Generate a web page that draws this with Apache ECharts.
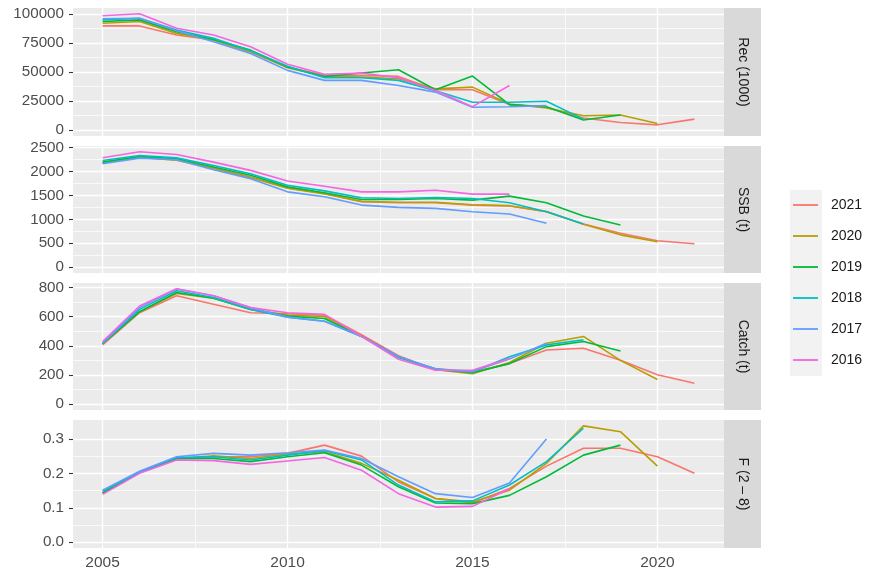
<!DOCTYPE html>
<html><head><meta charset="utf-8">
<script src="https://cdn.jsdelivr.net/npm/echarts@6/dist/echarts.min.js"></script>
<style>html,body{margin:0;padding:0;background:#fff}#c{width:869px;height:575px}</style>
</head><body><div id="c"></div>
<script>
// ---------- data ----------
const years = [2005,2006,2007,2008,2009,2010,2011,2012,2013,2014,2015,2016,2017,2018,2019,2020,2021];
const assessments = ['2021','2020','2019','2018','2017','2016'];
const panelNames = ['Rec (1000)','SSB (t)','Catch (t)','F (2 \u2013 8)'];
const xTicks = [2005,2010,2015,2020];

const rec2021 = [89600,89600,81800,77500,67300,54300,47100,47100,46200,34700,34700,22000,19700,10400,6600,4600,9500];
const rec2020 = [91900,93400,83200,77500,67300,53700,46200,45700,44200,35500,37000,22500,19100,12400,13000,5800];
const rec2019 = [93400,94800,84700,78000,68800,54300,46200,49100,52000,34700,46500,22000,20200,8700,13000];
const rec2018 = [94800,96200,86100,78900,68200,54900,45100,45100,42800,33800,24000,24000,24900,9500];
const rec2017 = [95700,96200,85500,76000,65900,51400,42800,42800,38400,32700,19700,20200,21100];
const rec2016 = [98300,100000,87600,81800,71700,56600,48000,49100,45100,34100,20200,38400];

const ssb2021 = [2174,2298,2243,2070,1884,1656,1539,1366,1346,1346,1297,1277,1159,904,711,552,490];
const ssb2020 = [2180,2290,2235,2060,1875,1650,1530,1375,1355,1355,1305,1285,1165,895,676,530];
const ssb2019 = [2194,2311,2263,2091,1918,1677,1553,1415,1415,1435,1401,1484,1346,1070,883];
const ssb2018 = [2229,2332,2284,2125,1953,1711,1594,1449,1435,1456,1435,1346,1159,904];
const ssb2017 = [2160,2277,2243,2036,1849,1573,1470,1297,1250,1228,1159,1111,918];
const ssb2016 = [2284,2410,2353,2194,2022,1801,1691,1573,1573,1608,1525,1525];

const catch2021 = [406,626,742,684,626,619,610,475,332,236,220,278,371,383,301,202,144];
const catch2020 = [415,633,758,726,650,610,600,464,325,236,209,285,417,464,300,169];
const catch2019 = [415,633,765,726,649,603,587,464,320,243,216,278,394,429,364];
const catch2018 = [418,649,777,730,649,596,568,464,325,236,220,325,406,441];
const catch2017 = [420,661,788,742,661,596,568,464,325,243,225,310,417];
const catch2016 = [429,672,790,742,661,626,615,464,308,232,232,313];

const f2021 = [0.143,0.204,0.243,0.248,0.248,0.258,0.282,0.250,0.175,0.127,0.114,0.156,0.221,0.273,0.273,0.248,0.200];
const f2020 = [0.143,0.204,0.243,0.251,0.243,0.256,0.263,0.229,0.180,0.127,0.117,0.151,0.229,0.338,0.321,0.221];
const f2019 = [0.143,0.204,0.243,0.243,0.234,0.248,0.260,0.224,0.161,0.114,0.112,0.136,0.190,0.253,0.282];
const f2018 = [0.148,0.204,0.246,0.248,0.239,0.253,0.266,0.239,0.166,0.117,0.120,0.166,0.234,0.331];
const f2017 = [0.151,0.206,0.248,0.258,0.253,0.260,0.268,0.243,0.190,0.141,0.130,0.172,0.300];
const f2016 = [0.139,0.200,0.239,0.237,0.226,0.236,0.246,0.209,0.141,0.102,0.104,0.155];

const recTicks = [0,25000,50000,75000,100000];
const ssbTicks = [0,500,1000,1500,2000,2500];
const catchTicks = [0,200,400,600,800];
const fTicks = [0.0,0.1,0.2,0.3];

// ---------- layout / style ----------
const colors = ['#F8766D','#B79F00','#00BA38','#00BFC4','#619CFF','#F564E3'];
const FONT = '"Liberation Sans", Arial, sans-serif';
const panelData = [
  [rec2021,rec2020,rec2019,rec2018,rec2017,rec2016],
  [ssb2021,ssb2020,ssb2019,ssb2018,ssb2017,ssb2016],
  [catch2021,catch2020,catch2019,catch2018,catch2017,catch2016],
  [f2021,f2020,f2019,f2018,f2017,f2016]
];
const panelTicks = [recTicks, ssbTicks, catchTicks, fTicks];
const panelRange = [[-5000,105000],[-120.5,2530.5],[-39.5,829.5],[-0.0169,0.355]];
const gridBoxes = [{top:8,height:128},{top:146,height:127},{top:283,height:127},{top:420,height:128}];
const GL = 73, GW = 651;
const xMin = 2004.2, xMax = 2021.8;

function mids(t){ const m=[]; for(let i=0;i<t.length-1;i++) m.push((t[i]+t[i+1])/2); return m; }
function fmt(v,i){ return i===3 ? v.toFixed(1) : String(v); }

const grid = gridBoxes.map(g => ({left:GL, width:GW, top:g.top, height:g.height, show:true, backgroundColor:'#EBEBEB', borderWidth:0}));
const xAxis = gridBoxes.map((g,i) => ({
  type:'value', gridIndex:i, min:xMin, max:xMax,
  splitLine:{show:false}, axisLine:{show:false},
  axisTick:{show:i===3, length:4, lineStyle:{color:'#333333',width:1.1}, customValues:xTicks},
  axisLabel:{show:i===3, customValues:xTicks, fontSize:15.5, color:'#4D4D4D', fontFamily:FONT, margin:7, formatter:v=>String(v)}
}));
const yAxis = gridBoxes.map((g,i) => ({
  type:'value', gridIndex:i, min:panelRange[i][0], max:panelRange[i][1],
  splitLine:{show:false}, axisLine:{show:false},
  axisTick:{show:true, length:4, lineStyle:{color:'#333333',width:1.1}, customValues:panelTicks[i]},
  axisLabel:{customValues:panelTicks[i], fontSize:15.2, color:'#4D4D4D', fontFamily:FONT, margin:9, formatter:v=>fmt(v,i)}
}));

const series = [];
gridBoxes.forEach((g,i) => {
  const yMajor = panelTicks[i], yMinor = mids(panelTicks[i]);
  const xMinor = mids(xTicks);
  const major = {color:'#FFFFFF', width:1.4, type:'solid'};
  const minor = {color:'#FFFFFF', width:0.7, type:'solid'};
  series.push({
    type:'line', xAxisIndex:i, yAxisIndex:i, data:[], z:1, silent:true,
    markLine:{silent:true, symbol:['none','none'], label:{show:false}, animation:false,
      data:[].concat(
        yMinor.map(v=>({yAxis:v, lineStyle:minor})),
        xMinor.map(v=>({xAxis:v, lineStyle:minor})),
        yMajor.map(v=>({yAxis:v, lineStyle:major})),
        xTicks.map(v=>({xAxis:v, lineStyle:major}))
      )}
  });
  panelData[i].forEach((arr,k) => {
    series.push({
      name:assessments[k], type:'line', xAxisIndex:i, yAxisIndex:i, z:10,
      symbol:'none', showSymbol:false, smooth:false,
      lineStyle:{color:colors[k], width:1.6}, itemStyle:{color:colors[k]},
      data: arr.map((v,j)=>[years[j], v])
    });
  });
});

const graphic = [];
gridBoxes.forEach((g,i) => {
  graphic.push({type:'rect', left:724, top:g.top, shape:{width:37, height:g.height}, style:{fill:'#D9D9D9'}, z:0});
  graphic.push({type:'text', x:743, y:g.top+g.height/2, rotation:-Math.PI/2, z:1,
    style:{text:panelNames[i], fill:'#1A1A1A', font:'14px ' + FONT, align:'center', verticalAlign:'middle', textAlign:'center', textVerticalAlign:'middle'}});
});
graphic.push({type:'rect', left:790, top:190, shape:{width:32, height:186}, style:{fill:'#F2F2F2'}, z:-10});

const chart = echarts.init(document.getElementById('c'), null, {renderer:'canvas'});
chart.setOption({
  animation:false,
  backgroundColor:'#FFFFFF',
  grid, xAxis, yAxis, series, graphic,
  legend:{orient:'vertical', left:793, top:198, padding:0, icon:'rect', itemWidth:25, itemHeight:1.8, itemGap:17,
    data:assessments, selectedMode:false,
    textStyle:{fontSize:14, color:'#1A1A1A', fontFamily:FONT, padding:[0,0,0,8]}}
});
</script></body></html>
